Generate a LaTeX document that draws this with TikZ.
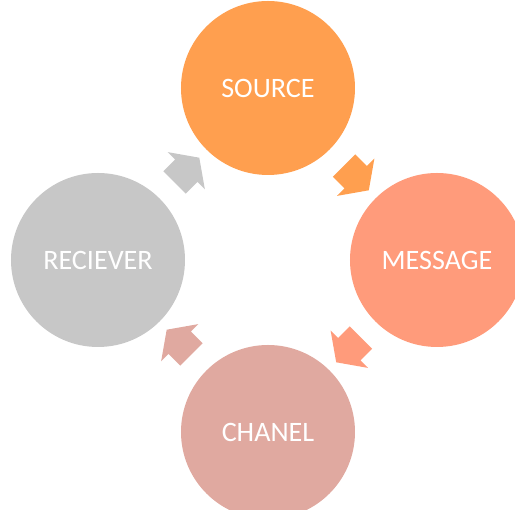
\documentclass[tikz,border=0pt]{standalone}
\usepackage{fontspec}
\setmainfont{Carlito}
\usepackage{xcolor}
\usetikzlibrary{calc,shapes.arrows}

\definecolor{sourcecol}{RGB}{255,159,79}
\definecolor{messagecol}{RGB}{255,155,123}
\definecolor{chanelcol}{RGB}{224,169,160}
\definecolor{recievercol}{RGB}{199,199,199}

\begin{document}
\begin{tikzpicture}[
        stage/.style={circle, minimum size=3.48cm, inner sep=0pt, text=white, font=\fontsize{16}{19}\selectfont},
        blockarrow/.style={single arrow, minimum height=0.7cm, minimum width=1.04cm, inner xsep=0pt, inner ysep=0.31cm, single arrow head extend=0.21cm, single arrow tip angle=110}
    ]
    \useasboundingbox (-5.36,5.2) rectangle (4.94,-5.0);

    % Stages
    \node[stage, fill=sourcecol] (source) at (0,3.44) {SOURCE};
    \node[stage, fill=messagecol] (message) at (3.38,0) {MESSAGE};
    \node[stage, fill=chanelcol] (chanel) at (0,-3.44) {CHANEL};
    \node[stage, fill=recievercol] (reciever) at (-3.4,0) {RECIEVER};

    % Block arrows between stages
    \node[blockarrow, fill=sourcecol, rotate=-45] (source_message) at ($(source)!0.5!(message)$) {};
    \node[blockarrow, fill=messagecol, rotate=-135] (message_chanel) at ($(message)!0.5!(chanel)$) {};
    \node[blockarrow, fill=chanelcol, rotate=135] (chanel_reciever) at ($(chanel)!0.5!(reciever)$) {};
    \node[blockarrow, fill=recievercol, rotate=45] (reciever_source) at ($(reciever)!0.5!(source)$) {};

\end{tikzpicture}
\end{document}
